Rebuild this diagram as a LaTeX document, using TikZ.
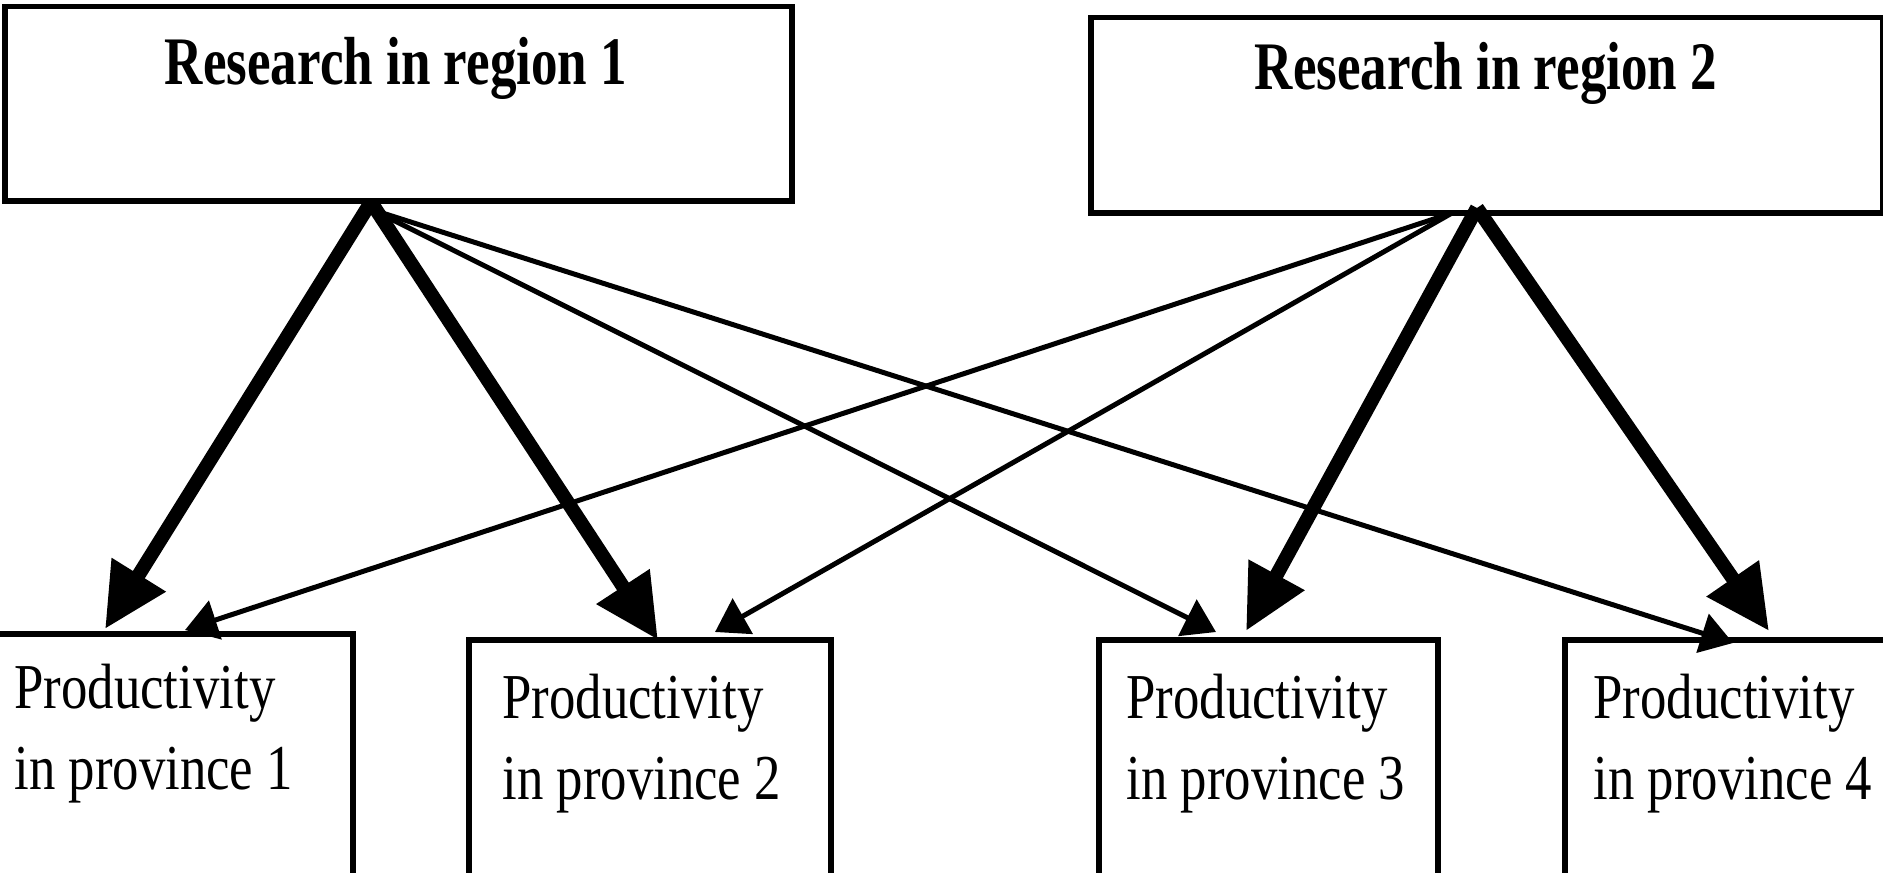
\documentclass[tikz,border=0pt]{standalone}
\usepackage{fontspec}
\setmainfont{Liberation Serif}
\newfontfamily\titlefont{Liberation Serif}[FakeStretch=0.78]
\newfontfamily\provfont{Liberation Serif}[FakeStretch=0.825]
\usetikzlibrary{arrows.meta}
\tikzset{
  box/.style={draw, line width=2.75pt, inner sep=0pt, anchor=north west},
  titletext/.style={inner sep=0pt, anchor=base, font=\titlefont\bfseries\fontsize{34pt}{40pt}\selectfont},
  provtext/.style={inner sep=0pt, anchor=base west, align=left, font=\provfont\fontsize{32pt}{40.5pt}\selectfont},
  thick arrow/.style={line width=7pt, -{Triangle[length=32pt,width=30pt]}},
  thin arrow/.style={line width=2.5pt, -{Triangle[length=16pt,width=20pt]}}
}
\begin{document}
\begin{tikzpicture}[x=0.5pt,y=-0.5pt]
\useasboundingbox (0,0) rectangle (1883,872);
\clip (0,0) rectangle (1883,872);
% boxes
\node[box, minimum width=393.5pt, minimum height=97pt] (r1) at (2,4) {};
\node[box, minimum width=396pt, minimum height=97.5pt] (r2) at (1088,15) {};
\node[box, minimum width=185pt, minimum height=150pt] (p1) at (-20,631) {};
\node[box, minimum width=181pt, minimum height=150pt] (p2) at (466,637) {};
\node[box, minimum width=169.5pt, minimum height=150pt] (p3) at (1096,637) {};
\node[box, minimum width=170pt, minimum height=150pt] (p4) at (1562,637) {};
% texts (anchor at baseline of the last line)
\node[titletext] (t1) at (396,85) {Research in region 1};
\node[titletext] (t2) at (1486,90) {Research in region 2};
\node[provtext] (q1) at (14,789) {Productivity\\in province 1};
\node[provtext] (q2) at (502,799) {Productivity\\in province 2};
\node[provtext] (q3) at (1126,799) {Productivity\\in province 3};
\node[provtext] (q4) at (1593,799) {Productivity\\in province 4};
% connector end points
\coordinate (r1a) at (371,202);
\coordinate (r1b) at (373,210);
\coordinate (r2a) at (1477,208);
\coordinate (r2b) at (1452,213);
\coordinate (p1a) at (105,629);
\coordinate (p1b) at (185,630);
\coordinate (p2a) at (658,640);
\coordinate (p2b) at (715,632);
\coordinate (p3a) at (1246,631);
\coordinate (p3b) at (1216,632);
\coordinate (p4a) at (1769,631);
\coordinate (p4b) at (1733,643);
% connectors
\draw[thin arrow] (r1b) -- (p3b);
\draw[thin arrow] (r1b) -- (p4b);
\draw[thin arrow] (r2b) -- (p1b);
\draw[thin arrow] (r2b) -- (p2b);
\draw[thick arrow] (r1a) -- (p1a);
\draw[thick arrow] (r1a) -- (p2a);
\draw[thick arrow] (r2a) -- (p3a);
\draw[thick arrow] (r2a) -- (p4a);
\end{tikzpicture}
\end{document}
